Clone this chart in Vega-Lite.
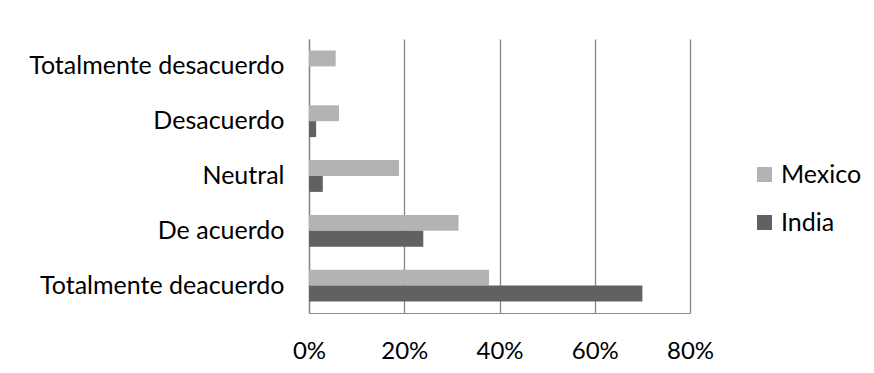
{
  "$schema": "https://vega.github.io/schema/vega-lite/v6.json",
  "autosize": "none",
  "width": 381,
  "height": 274,
  "padding": {"left": 309, "top": 39, "right": 184, "bottom": 60},
  "background": "#ffffff",
  "data": {
    "values": [
      {"respuesta": "Totalmente desacuerdo", "pais": "Mexico", "valor": 0.056},
      {"respuesta": "Totalmente desacuerdo", "pais": "India", "valor": 0.0},
      {"respuesta": "Desacuerdo", "pais": "Mexico", "valor": 0.063},
      {"respuesta": "Desacuerdo", "pais": "India", "valor": 0.015},
      {"respuesta": "Neutral", "pais": "Mexico", "valor": 0.189},
      {"respuesta": "Neutral", "pais": "India", "valor": 0.029},
      {"respuesta": "De acuerdo", "pais": "Mexico", "valor": 0.314},
      {"respuesta": "De acuerdo", "pais": "India", "valor": 0.24},
      {"respuesta": "Totalmente deacuerdo", "pais": "Mexico", "valor": 0.378},
      {"respuesta": "Totalmente deacuerdo", "pais": "India", "valor": 0.70}
    ]
  },
  "mark": {"type": "bar", "stroke": null},
  "encoding": {
    "y": {
      "field": "respuesta",
      "type": "nominal",
      "sort": ["Totalmente desacuerdo", "Desacuerdo", "Neutral", "De acuerdo", "Totalmente deacuerdo"],
      "scale": {"paddingInner": 0.42, "paddingOuter": 0.21},
      "axis": {
        "title": null,
        "ticks": false,
        "grid": false,
        "domain": true,
        "domainColor": "#868686",
        "domainWidth": 1.3,
        "labelPadding": 25,
        "labelFont": "Lato",
        "labelFontSize": 25,
        "labelColor": "#000000",
        "labelLimit": 400
      }
    },
    "yOffset": {
      "field": "pais",
      "type": "nominal",
      "sort": ["Mexico", "India"]
    },
    "x": {
      "field": "valor",
      "type": "quantitative",
      "scale": {"domain": [0, 0.8], "nice": false},
      "axis": {
        "title": null,
        "values": [0, 0.2, 0.4, 0.6, 0.8],
        "format": ".0%",
        "ticks": false,
        "grid": true,
        "gridColor": "#868686",
        "gridWidth": 1.3,
        "domain": true,
        "domainColor": "#8c8c8c",
        "labelPadding": 26,
        "labelFont": "Lato",
        "labelFontSize": 24,
        "labelColor": "#000000",
        "labelFlush": false
      }
    },
    "color": {
      "field": "pais",
      "type": "nominal",
      "scale": {"domain": ["Mexico", "India"], "range": ["#b3b3b3", "#616161"]},
      "legend": {
        "title": null,
        "orient": "none",
        "legendX": 443,
        "legendY": 123,
        "symbolType": "square",
        "symbolSize": 225,
        "symbolStrokeWidth": 0,
        "labelFont": "Lato",
        "labelFontSize": 25,
        "labelColor": "#000000",
        "labelOffset": 4,
        "rowPadding": 22
      }
    }
  },
  "config": {
    "view": {"stroke": null}
  }
}
